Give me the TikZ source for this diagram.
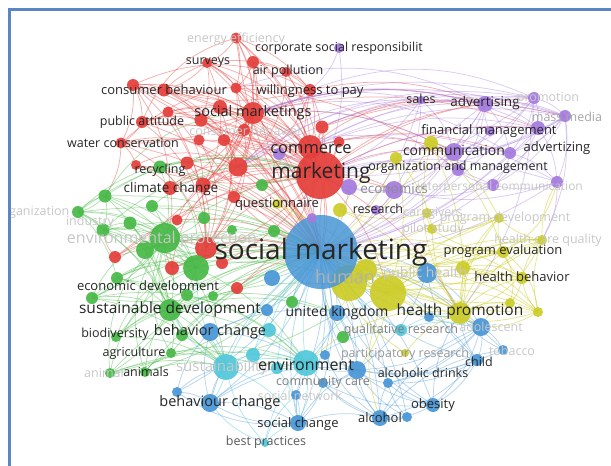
\documentclass[tikz,border=0pt]{standalone}
\usepackage{fontspec}
\setmainfont{Open Sans}
\definecolor{cred}{RGB}{228,62,58}
\definecolor{cgreen}{RGB}{70,184,70}
\definecolor{cblue}{RGB}{72,150,214}
\definecolor{cyel}{RGB}{204,204,40}
\definecolor{cpur}{RGB}{164,122,222}
\definecolor{ccyan}{RGB}{80,200,218}
\definecolor{bordc}{RGB}{90,134,200}
\pgfdeclarelayer{edges}
\pgfsetlayers{edges,main}
\begin{document}
\begin{tikzpicture}[x=1pt,y=-1pt,
  nd/.style={circle,inner sep=0pt,outer sep=0pt,draw=none,fill opacity=0.92},
  rn/.style={nd,fill=cred,minimum size=#1},
  gn/.style={nd,fill=cgreen,minimum size=#1},
  bn/.style={nd,fill=cblue,minimum size=#1},
  yn/.style={nd,fill=cyel,minimum size=#1},
  pn/.style={nd,fill=cpur,minimum size=#1},
  cn/.style={nd,fill=ccyan,minimum size=#1},
  lb/.style={inner sep=0pt,text=black!85,font=\fontsize{12.5}{13}\selectfont},
  lbb/.style={lb,font=\fontsize{15.5}{16}\selectfont},
  lf/.style={lb,text=black!22},
  lfb/.style={lf,font=\fontsize{15}{16}\selectfont},
  lg/.style={lb,text=black!50},
  er/.style={draw=cred,opacity=0.42,line width=0.75pt},
  eg/.style={draw=cgreen,opacity=0.42,line width=0.75pt},
  eb/.style={draw=cblue,opacity=0.4,line width=0.75pt},
  ey/.style={draw=cyel,opacity=0.5,line width=0.75pt},
  ep/.style={draw=cpur,opacity=0.4,line width=0.75pt},
  ec/.style={draw=ccyan,opacity=0.45,line width=0.75pt},
]
\useasboundingbox (0,0) rectangle (611,466);
% ---------- red nodes
\node[rn=11] (r1) at (236,38) {};
\node[rn=10] (r2) at (207,63) {};
\node[rn=12] (r3) at (253,62) {};
\node[rn=10] (r4) at (286,72) {};
\node[rn=12] (r5) at (310,90) {};
\node[rn=11] (r6) at (236,88) {};
\node[rn=12] (r7) at (133,85) {};
\node[rn=13] (r8) at (164,90) {};
\node[rn=11] (r9) at (168,112) {};
\node[rn=12] (r10) at (142,122) {};
\node[rn=22] (r11) at (253,113) {};
\node[rn=14] (r12) at (220,107) {};
\node[rn=13] (r13) at (201,120) {};
\node[rn=12] (r14) at (244,130) {};
\node[rn=13] (r15) at (322,127) {};
\node[rn=11] (r16) at (339,142) {};
\node[rn=11] (r17) at (121,143) {};
\node[rn=11] (r18) at (199,140) {};
\node[rn=12] (r19) at (224,140) {};
\node[rn=24] (r20) at (310,147) {};
\node[rn=10] (r21) at (136,165) {};
\node[rn=13] (r22) at (187,163) {};
\node[rn=14] (r23) at (170,188) {};
\node[rn=15] (r24) at (203,185) {};
\node[rn=12] (r25) at (234,197) {};
\node[rn=19] (r26) at (238,167) {};
\node[rn=11] (r28) at (177,220) {};
\node[rn=12] (r29) at (115,257) {};
\node[rn=14] (r30) at (172,268) {};
\node[rn=12] (r31) at (222,263) {};
\node[rn=12] (r32) at (237,288) {};
\node[rn=22] (r33) at (206,248) {};
% ---------- green nodes
\node[gn=13] (g1) at (160,167) {};
\node[gn=12] (g2) at (262,185) {};
\node[gn=13] (g3) at (105,196) {};
\node[gn=12] (g4) at (78,212) {};
\node[gn=13] (g5) at (103,230) {};
\node[gn=13] (g6) at (130,223) {};
\node[gn=12] (g7) at (152,206) {};
\node[gn=12] (g9) at (204,218) {};
\node[gn=30] (g10) at (165,238) {};
\node[gn=18] (g11) at (145,250) {};
\node[gn=26] (g12) at (196,268) {};
\node[gn=12] (g13) at (274,231) {};
\node[gn=12] (g14) at (117,278) {};
\node[gn=12] (g15) at (92,298) {};
\node[gn=12] (g16) at (187,295) {};
\node[gn=12] (g17) at (292,302) {};
\node[gn=22] (g18) at (170,310) {};
\node[gn=12] (g19) at (343,337) {};
\node[gn=10] (g20) at (171,353) {};
\node[gn=10] (g21) at (110,373) {};
\node[gn=12] (g22) at (182,335) {};
\node[gn=10] (g23) at (145,372) {};
\node[gn=10] (g24) at (116,337) {};
\node[gn=10] (g31) at (232,230) {};
\node[gn=10] (g32) at (213,296) {};
% ---------- blue nodes
\node[bn=16] (b2) at (272,278) {};
\node[bn=12] (b3) at (267,310) {};
\node[bn=16] (b4) at (337,313) {};
\node[bn=20] (b5) at (427,273) {};
\node[bn=10] (b6) at (429,317) {};
\node[bn=18] (b7) at (481,327) {};
\node[bn=10] (b8) at (503,350) {};
\node[bn=12] (b9) at (477,360) {};
\node[bn=14] (b10) at (433,405) {};
\node[bn=10] (b11) at (407,417) {};
\node[bn=16] (b12) at (380,418) {};
\node[bn=10] (b13) at (388,383) {};
\node[bn=18] (b14) at (357,370) {};
\node[bn=10] (b15) at (323,383) {};
\node[bn=10] (b16) at (296,395) {};
\node[bn=16] (b17) at (298,423) {};
\node[bn=18] (b18) at (210,403) {};
\node[bn=10] (b19) at (177,392) {};
\node[bn=18] (b20) at (210,332) {};
\node[bn=10] (b21) at (325,355) {};
% ---------- cyan nodes
\node[cn=26] (c1) at (226,367) {};
\node[cn=26] (c2) at (306,363) {};
\node[cn=14] (c3) at (253,355) {};
\node[cn=14] (c4) at (269,330) {};
\node[cn=12] (c5) at (401,330) {};
\node[cn=12] (c6) at (277,368) {};
\node[cn=8] (c7) at (265,443) {};
% ---------- yellow nodes
\node[yn=36] (y1) at (349,283) {};
\node[yn=36] (y2) at (388,293) {};
\node[yn=22] (y3) at (460,313) {};
\node[yn=10] (y4) at (538,312) {};
\node[yn=12] (y5) at (522,278) {};
\node[yn=12] (y6) at (503,252) {};
\node[yn=10] (y7) at (542,240) {};
\node[yn=10] (y8) at (499,218) {};
\node[yn=10] (y9) at (432,229) {};
\node[yn=10] (y10) at (427,213) {};
\node[yn=14] (y11) at (340,210) {};
\node[yn=10] (y12) at (277,204) {};
\node[yn=14] (y13) at (431,143) {};
\node[yn=12] (y14) at (396,158) {};
\node[yn=8] (y15) at (405,353) {};
\node[yn=14] (y16) at (463,268) {};
\node[yn=10] (y17) at (510,303) {};
\node[yn=22] (y18) at (366,270) {};
% ---------- purple nodes
\node[pn=10] (p1) at (339,48) {};
\node[pn=8] (p2) at (421,100) {};
\node[pn=16] (p3) at (485,104) {};
\node[pn=12] (p4) at (534,98) {};
\node[pn=12] (p5) at (565,116) {};
\node[pn=14] (p6) at (538,128) {};
\node[pn=18] (p7) at (454,152) {};
\node[pn=12] (p8) at (510,153) {};
\node[pn=12] (p9) at (557,182) {};
\node[pn=12] (p10) at (493,185) {};
\node[pn=18] (p11) at (394,190) {};
\node[pn=16] (p12) at (349,187) {};
\node[pn=12] (p13) at (458,170) {};
\node[pn=10] (p14) at (376,210) {};
\node[pn=12] (p15) at (279,154) {};
\node[pn=10] (p18) at (490,131) {};
% ---------- big nodes
\node[rn=48] (r27) at (320,175) {};
\node[bn=74,fill opacity=0.85] (b1) at (321,252) {};
\node[pn=10] (p16) at (312,218) {};
% ---------- edges
\begin{pgfonlayer}{edges}
\foreach \a/\b in {r1/r2,r1/r3,r1/r5,r1/r6,r1/r11,r1/r27,r1/r20,r2/r6,r2/r8,r2/r11,r2/r27,r3/r4,r3/r5,r3/r11,r3/r27,r4/r5,r4/r20,r5/r20,r5/r27,r5/r11,r6/r11,r6/r27,r7/r8,r7/r10,r7/r11,r7/r27,r7/r17,r7/r23,r8/r11,r8/r13,r8/r27,r8/r20,r9/r10,r9/r11,r9/r33,r10/r17,r10/r27,r10/r13,r10/b1,r11/r12,r11/r14,r11/r20,r11/r27,r11/b1,r11/r26,r12/r13,r12/r27,r13/r27,r14/r27,r15/r27,r15/r20,r16/r27,r17/r21,r17/r27,r17/b1,r18/r27,r19/r27,r19/b1,r20/r27,r20/b1,r21/r23,r22/r27,r22/b1,r23/r27,r23/b1,r24/r27,r24/b1,r25/r27,r26/r27,r26/b1,r28/b1,r28/r27,r29/b1,r29/r27,r30/b1,r31/b1,r32/b1,r33/b1,r33/r27,r27/b1,r27/p7,r27/p11,r27/p3,r11/p3,r20/p7,r5/p3,r27/y3,r27/y2,r27/p6,r11/p7,r20/p2,r6/p13,r15/p3,r26/y1,r24/p11,r27/p4,r20/p8,r11/p6,r15/p5,r7/b1,r8/b1,r2/b1,r13/b1,r21/b1,r23/g10,r30/g10,r29/g5,r33/g12,r17/g3,r12/b1,r14/b1,r9/r27,r4/r27,r3/r6,r2/r13}
  \draw[er] (\a.center) to[bend left=16] (\b.center);
\foreach \a/\b in {r7/r20,r10/r11,r17/r11,r21/r27,r8/r5,r12/r20,r13/r20,r18/b1,r25/b1,r22/r11,r24/r11,r23/r11,r28/r11,r29/r11,r30/r27,r31/r27,r32/r27,r33/r11,r26/r20,r19/r20,r1/b1,r3/b1,r5/b1,r6/b1,r16/b1,r15/b1}
  \draw[er] (\a.center) to[bend right=14] (\b.center);
\foreach \a/\b in {r1/r26,r2/r24,r3/r24,r7/r26,r7/r33,r8/r26,r9/r24,r10/r33,r12/r33,r13/r26,r17/r33,r17/r26,r21/r26,r22/r33,r23/r26,r28/r26,r29/r33,r30/r26,r6/r24,r5/r26,r4/r26,r14/r33,r18/r33,r19/r33,r2/r20,r6/r20,r9/r20,r10/r20,r25/r11,r7/r5,r17/r5,r8/r3,r10/r1}
  \draw[er] (\a.center) to[bend left=26] (\b.center);
\foreach \a/\b in {p3/r26,p4/r26,p5/r26,p6/r11,p8/r11,p9/r20,p10/r27,p2/r26,p7/r26,p4/r5,p5/r15,p3/r6}
  \draw[ep] (\a.center) to[bend right=22] (\b.center);
\foreach \a/\b in {g1/g10,g1/r27,g1/b1,g3/g10,g3/g4,g3/g5,g3/b1,g3/g18,g4/g5,g4/g10,g4/g14,g4/g18,g4/b1,g5/g10,g5/g6,g5/g11,g5/b1,g6/g10,g7/g10,g7/b1,g9/g10,g9/b1,g10/b1,g10/g11,g10/g12,g10/g18,g10/g14,g10/g15,g10/r27,g10/c1,g11/g12,g11/b1,g12/b1,g12/g18,g13/b1,g14/g15,g14/g18,g15/g18,g15/b1,g16/g18,g16/b1,g17/b1,g18/b1,g18/g20,g18/g21,g18/g22,g18/c1,g18/c2,g19/b1,g20/g21,g20/b1,g21/b1,g22/b1,g23/g18,g23/g20,g23/b1,g24/g18,g24/b1,g2/b1,g2/r27,g18/y2,g12/c2,g20/c2,g21/c1,g31/b1,g32/b1,g31/g10,g32/g18,g4/g3,g5/g18,g6/g18,g7/g12,g9/g12,g11/g18,g14/b1,g15/c1,g21/c2,g23/c1,g24/c1,g12/y1,g10/y2,g18/b4,g16/c2,g13/g10}
  \draw[eg] (\a.center) to[bend left=16] (\b.center);
\foreach \a/\b in {g3/b1,g4/b1,g5/b1,g6/b1,g14/b1,g15/b1,g21/b1,g23/b1,g20/b4,g22/c2,g24/g10,g11/c1,g6/g12}
  \draw[eg] (\a.center) to[bend right=18] (\b.center);
\foreach \a/\b in {g3/g12,g4/g12,g5/g12,g14/g12,g15/g12,g3/r27,g4/r27,g5/r27,g7/r27,g15/g10,g21/g10,g20/g10,g23/g10,g24/g12,g22/g10,g16/g10,g1/g12,g14/c1,g15/c2,g20/c1,g4/r26,g3/r11,g21/g12,g24/b4}
  \draw[eg] (\a.center) to[bend left=28] (\b.center);
\foreach \a/\b in {b1/b2,b1/b3,b1/b4,b1/b5,b1/b6,b1/b7,b1/b8,b1/b9,b1/b10,b1/b11,b1/b12,b1/b13,b1/b14,b1/b15,b1/b16,b1/b17,b1/b18,b1/b19,b1/b20,b1/b21,b4/b14,b5/b7,b7/b9,b7/b8,b7/b10,b9/b10,b9/b13,b10/b12,b10/b14,b11/b12,b12/b13,b12/b14,b14/b15,b15/b17,b16/b17,b17/b18,b17/c2,b18/c1,b19/c1,b18/b20,b20/c1,b14/c2,b7/y3,b5/y3,b4/c2,b13/b14,b6/b7,b12/b21,b7/b14,b9/b14,b10/b13,b12/c2,b17/b14,b18/c2,b19/b18,b20/c2,b8/y3,b9/y3,b10/y3,b12/b15,b11/b14,b5/b14,b17/b12,b8/b14,b9/b12,b7/b13,b10/b15,b11/b13,b19/b20,b18/b17,b20/b4}
  \draw[eb] (\a.center) to[bend left=16] (\b.center);
\foreach \a/\b in {b1/b7,b1/b9,b1/b10,b1/b12,b1/b17,b1/b18,b1/b14,b4/b10,b5/b9,b7/b12,b14/b18,b13/b7,b8/b12,b19/b17}
  \draw[eb] (\a.center) to[bend right=20] (\b.center);
\foreach \a/\b in {c1/c2,c1/c3,c1/b1,c2/b1,c2/c5,c2/c6,c3/b1,c4/b1,c5/b1,c6/b1,c7/c1,c7/c2,c7/b17,c1/g18,c2/b17,c2/b14,c4/c2,c1/b18,c3/c2,c5/b7,c5/y3,c6/b17,c1/g12,c2/y2,c4/c1,c7/b16,c7/b18,c1/b17}
  \draw[ec] (\a.center) to[bend left=16] (\b.center);
\foreach \a/\b in {y1/b1,y2/b1,y3/b1,y1/y2,y1/y3,y2/y3,y3/y4,y3/y5,y3/y6,y3/y7,y3/y17,y5/y6,y5/y7,y6/y8,y6/y9,y7/y8,y8/y9,y9/y10,y10/y11,y11/b1,y12/b1,y13/b1,y14/b1,y13/y3,y14/y2,y13/y6,y15/b1,y15/y3,y16/y3,y16/b1,y4/y5,y4/b1,y7/b1,y8/b1,y6/b1,y5/b1,y2/y5,y2/y6,y17/b1,y18/b1,y18/y3,y4/b7,y7/p9,y13/p7,y5/y17,y2/y7,y1/y6,y11/y14,y2/y4,y1/y5,y3/y8,y3/y9,y16/y6,y18/y6,y2/y8,y4/y7,y13/y8,y14/y9,y12/y2,y11/y3,y1/b4,y2/b14}
  \draw[ey] (\a.center) to[bend left=16] (\b.center);
\foreach \a/\b in {y3/y7,y2/y4,y1/y7,y4/b1,y5/b1,y7/y6,y8/y3,y13/y3,y6/p9,y17/b7,y3/c2,y2/b12,y4/y1,y7/y2,y8/y1,y4/y16,y17/y6,y7/y16,y5/y16,y4/y6}
  \draw[ey] (\a.center) to[bend right=24] (\b.center);
\foreach \a/\b in {p1/r27,p1/r5,p2/p3,p2/p7,p2/r27,p3/p4,p3/p5,p3/p6,p3/p7,p3/p8,p3/b1,p4/p5,p4/p6,p5/p6,p5/p8,p5/p9,p6/p7,p6/p8,p7/p8,p7/p11,p7/p13,p7/b1,p8/p9,p8/p10,p9/p10,p10/p11,p10/p13,p11/p12,p11/b1,p11/p14,p12/b1,p13/b1,p14/b1,p15/r27,p15/b1,p16/b1,p3/r27,p4/r27,p5/r27,p6/b1,p9/b1,p10/b1,p8/b1,p18/p3,p18/p7,p18/b1,p4/y3,p5/y7,p9/y7,p2/p11,p3/p11,p4/p7,p5/p7,p5/p10,p6/p9,p6/p10,p9/p11,p4/p8,p3/p13,p2/b1,p5/b1,p4/b1,p12/r27,p11/r27}
  \draw[ep] (\a.center) to[bend left=16] (\b.center);
\foreach \a/\b in {p3/r11,p4/r20,p6/r27,p5/r11,p8/r27,p4/r11,p3/r20,p9/r27,p7/r11,p2/r11,p6/r20,p5/r20}
  \draw[ep] (\a.center) to[bend right=16] (\b.center);
\end{pgfonlayer}
% ---------- labels
\begin{scope}
\clip (10,10) rectangle (611,466);
\node[lf] (l1) at (236,39) {energy efficiency};
\node[lb] (l2) at (339,48) {corporate social responsibilit};
\node[lb] (l3) at (208,63) {surveys};
\node[lb] (l4) at (288,71) {air pollution};
\node[lb,font=\fontsize{13}{14}\selectfont] (l5) at (164,90) {consumer behaviour};
\node[lb,font=\fontsize{13}{14}\selectfont] (l6) at (310,91) {willingness to pay};
\node[lb,font=\fontsize{14.5}{15}\selectfont] (l7) at (253,113) {social marketings};
\node[lb] (l8) at (142,122) {public attitude};
\node[lf] (l9) at (246,131) {consumer behavior};
\node[lb] (l10) at (123,143) {water conservation};
\node[lb,font=\fontsize{16.5}{17}\selectfont] (l11) at (311,149) {commerce};
\node[lb,font=\fontsize{14}{15}\selectfont] (l12) at (454,150) {communication};
\node[lb,font=\fontsize{13}{14}\selectfont] (l13) at (557,148) {advertizing};
\node[lb,font=\fontsize{13}{14}\selectfont] (l14) at (489,131) {financial management};
\node[lb,font=\fontsize{13.5}{14}\selectfont] (l15) at (485,103) {advertising};
\node[lb] (l16) at (421,99) {sales};
\node[lf] (l17) at (548,98) {promotion};
\node[lb,text=black!35] (l18) at (567,117) {mass media};
\node[lb] (l19) at (160,170) {recycling};
\node[lb,font=\fontsize{13.5}{14}\selectfont] (l20) at (171,189) {climate change};
\node[lb,font=\fontsize{21}{22}\selectfont] (l21) at (321,173) {marketing};
\node[lb,font=\fontsize{12.5}{13}\selectfont] (l22) at (458,167) {organization and management};
\node[lb,text=black!45,font=\fontsize{13.5}{14}\selectfont] (l23) at (394,189) {economics};
\node[lf,font=\fontsize{12}{13}\selectfont] (l24) at (500,187) {interpersonal communication};
\node[lb,font=\fontsize{13}{14}\selectfont] (l25) at (277,204) {questionnaire};
\node[lb] (l26) at (378,209) {research};
\node[lf] (l27) at (433,213) {caregivers};
\node[lf] (l28) at (505,218) {program development};
\node[lf] (l29) at (433,229) {pilot study};
\node[lf] (l30) at (548,240) {health care quality};
\node[lf] (l31) at (33,212) {organization};
\node[lf] (l32) at (90,222) {industry};
\node[lfb,font=\fontsize{16}{17}\selectfont] (l33) at (162,239) {environmental protection};
\node[lb,font=\fontsize{28}{29}\selectfont] (l34) at (321,252) {social marketing};
\node[lb,text=black!30,font=\fontsize{18}{19}\selectfont] (l35) at (345,277) {human};
\node[lf,font=\fontsize{14}{15}\selectfont] (l36) at (425,274) {public health};
\node[lb,font=\fontsize{13}{14}\selectfont] (l37) at (503,251) {program evaluation};
\node[lb,font=\fontsize{13}{14}\selectfont] (l38) at (522,277) {health behavior};
\node[lb,font=\fontsize{13}{14}\selectfont] (l39) at (148,287) {economic development};
\node[lbb] (l40) at (170,309) {sustainable development};
\node[lb,font=\fontsize{14}{15}\selectfont] (l41) at (337,313) {united kingdom};
\node[lbb] (l42) at (460,311) {health promotion};
\node[lb] (l43) at (115,334) {biodiversity};
\node[lb,font=\fontsize{14.5}{15}\selectfont] (l44) at (210,332) {behavior change};
\node[lg] (l45) at (401,330) {qualitative research};
\node[lf] (l46) at (491,327) {adolescent};
\node[lb] (l47) at (134,353) {agriculture};
\node[lb,text=black!40] (l48) at (405,354) {participatory research};
\node[lb] (l49) at (479,362) {child};
\node[lf] (l50) at (512,351) {tobacco};
\node[lf] (l51) at (104,373) {animal};
\node[lb] (l52) at (146,372) {animals};
\node[lfb] (l53) at (222,368) {sustainability};
\node[lbb,font=\fontsize{16}{17}\selectfont] (l54) at (306,365) {environment};
\node[lg] (l55) at (323,382) {community care};
\node[lb] (l56) at (423,373) {alcoholic drinks};
\node[lf] (l57) at (300,396) {social network};
\node[lb,font=\fontsize{14.5}{15}\selectfont] (l58) at (220,403) {behaviour change};
\node[lb,font=\fontsize{13}{14}\selectfont] (l59) at (433,405) {obesity};
\node[lb,font=\fontsize{13}{14}\selectfont] (l60) at (380,418) {alcohol};
\node[lb,font=\fontsize{13}{14}\selectfont] (l61) at (298,424) {social change};
\node[lb,text=black!65] (l62) at (266,442) {best practices};
\end{scope}
% ---------- frame
\draw[bordc,line width=2.5pt] (9.5,470) -- (9.5,9.5) -- (615,9.5);
\end{tikzpicture}
\end{document}
